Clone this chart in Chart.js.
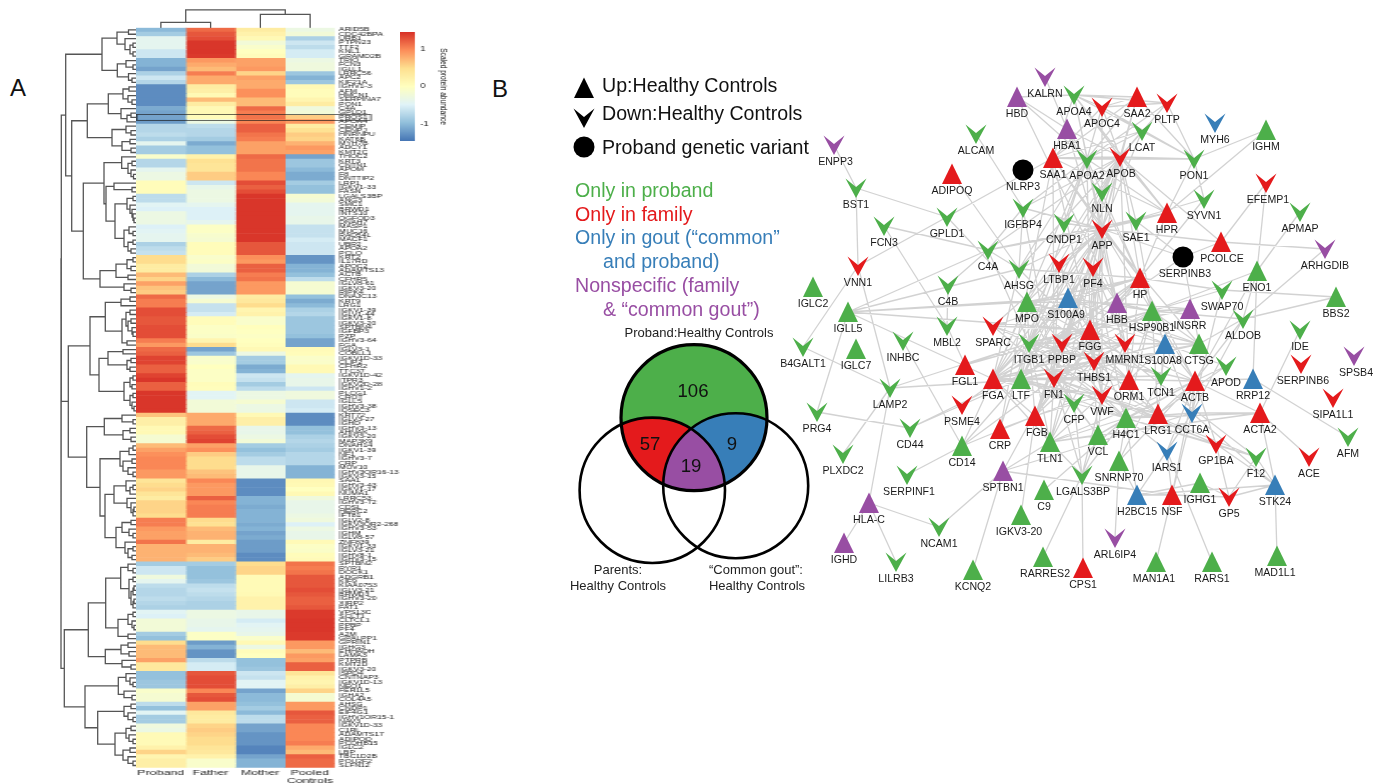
<!DOCTYPE html>
<html>
<head>
<meta charset="utf-8">
<title>Proband proteomics heatmap, Venn and network</title>
<script src="https://cdn.jsdelivr.net/npm/chart.js@4"></script>
<style>
  html, body { margin: 0; padding: 0; background: #fff; overflow: hidden; }
  body { width: 1385px; height: 784px; position: relative; font-family: "Liberation Sans", Arial, sans-serif; }
  .box { position: absolute; }
  .wide { transform-origin: 0 0; filter: blur(0.3px); }
  .letter { position: absolute; font-size: 24px; color: #111; line-height: 24px; }
</style>
</head>
<body>
<div class="letter" style="left:10px;top:76px">A</div>
<div class="letter" style="left:492px;top:77px">B</div>
<div class="box" style="left:55px;top:0"><canvas id="rowTree" width="81" height="784"></canvas></div>
<div class="box" style="left:136px;top:0"><canvas id="colTree" width="199" height="28"></canvas></div>
<div class="box wide" style="left:136px;top:0;transform:scaleX(1.7)"><canvas id="heat" width="160" height="784"></canvas></div>
<div class="box wide" style="left:400px;top:0;transform:scaleX(1.35)"><canvas id="colorBar" width="36" height="170"></canvas></div>
<div class="box" style="left:500px;top:60px"><canvas id="venn" width="330" height="540"></canvas></div>
<div class="box" style="left:780px;top:60px"><canvas id="network" width="605" height="560"></canvas></div>

<script>
// ---------- panel A data ----------
const geneNames = ["ARID5B","CDC42BPA","URB1","PTPN23","TTF2","KNL1","GRAMD2B","TRIO","FCN3","IGLL1",
"LRRC56","APC2","KIF21A","IGHV1-3","AFM","HMCN1","SERPINA7","PON1","C4A","GPLD1",
"PROS1","APOA4","CEMIP","CENPJ","HNRNPU","KAT6B","MYH7B","ADCY1","KMT2C","THOC2",
"KRT3","CNTN1","APOM","F8","DNTTIP2","LRP1","IGKV1-33","FASN","LGALS3BP","ANG3",
"SMC1","BRWD1","INTS10","OGFOD3","DNAH7","MASP1","MUC16","RAD54L","MACF1","UBR2",
"APOA2","PCLO","KRT2","IL17RD","APOC2","ADAMTS13","ACTB","CFHR5","IGLV8-61","IGKV3-20",
"RIPK4","DNAJC13","KRT9","LRG1","IGKV1-39","IGLV1-44","IGKV1-8","IGKV3-20","SPTBN4","IGFBP3",
"PZP","IGHV3-64","FGA","IGLV3-1","COBLL1","IGKV1D-33","CLIP2","CFHR2","TTC37","IGKV1D-42",
"ITPR3","IGKV2D-28","IGHV1-2","PLCG1","CROT","IGLL5","IGHV3-38","IQSEC3","KRT72","IGLV3-27",
"IGHD","IGHV3-13","AHNAK","IGKV3-20","MAP3K9","DNAH14","IGKV1-39","NF1","IGHV3-7","CRP",
"MOV10","IGHV3OR16-13","IGKV3-15","SAA1","IGHV3-43","IGKV1-17","NUMA1","LRRC53","IGHV3-72","CDSL",
"HERC2","IFT81","IGLV2-8","IGKV3OR2-268","IGHV3-53","IGHM","IGLV8-57","ZNF839","IGKV1-33","IGLV3-21",
"IGHV8-1","IGHV3-15","SPTBN2","RYR1","DOCK1","ADGRB1","KIF9","KIAA0753","IGLV3-21","BRWD3",
"IGHV3-20","XIRP2","FAT1","VPS13C","SCLT1","CLTCL1","PPBP","PF4","A2M","GPALPP1",
"GPRIN1","IGHG3","EHHADH","LAMA3","PTPRB","KMT2D","IGKV3-20","ISPD4","CNTNAP3","IGKV1D-13",
"NEO1","FER1L5","IGHA2","COL4A5","AHSG","CNDP1","EIF4G1","IGHV1OR15-1","NAV3","IGKV1D-33",
"C1RL","ADAMTS17","ADIPOQ","PCDHB15","IGLC2","LBP","TBC1D2B","POU2F2","SLFN12"];

const columnLabels = ["Proband", "Father", "Mother", ["Pooled", "Controls"]];

const probandValues = [-1,-.85,-.4,-.4,-.4,-.6,-.6,-1.05,-1.05,-1.15,
-.8,-.6,-.75,-1.3,-1.3,-1.3,-1.3,-1.3,-1.1,-1.15,
-1.15,-1.2,-.75,-.75,-.7,-.8,-.4,-.85,-.85,-.1,
-.75,-.75,-.4,-.3,-.3,.05,.05,.05,-.7,-.7,
-.45,-.5,-.3,-.3,-.3,-.5,-.45,-.4,-.4,-.8,
-.7,-.65,.5,.5,.3,.3,.7,.55,.85,.65,
.6,1.15,1.05,1.05,1.3,1.3,1.25,1.25,1.3,1.3,
1.3,1.05,.9,1.15,1.2,1.35,1.35,1.2,1.2,1.35,
1.42,1.2,1.2,1.42,1.42,1.42,1.42,1.42,.65,.25,
.25,.1,.1,-.15,-.15,.7,.85,.95,1,1,
1,.9,.9,.4,.5,.55,.4,.3,.55,.55,
.55,.5,1.05,1.05,.9,.85,.85,1.1,.75,.75,
.75,.75,-.85,-.6,-.6,-.25,-.4,-.7,-.75,-.75,
-.7,-.75,-.8,-.45,-.5,-.2,-.2,-.2,-.85,-.95,
.5,.7,.7,.7,.85,.35,.35,-.95,-.95,-.9,
-.9,-.1,-.15,-.15,-.7,-.95,-.45,-.85,-.85,-.25,
-.3,.08,.08,.08,.2,.55,.15,.25,.25];

const fatherValues = [1.15,1.25,1.3,1.42,1.42,1.42,1.4,.9,.8,.7,
1.05,.8,.8,.3,.25,.1,.7,.3,.1,.1,
.05,-.3,-.7,-.75,-.75,-.85,-1.1,-.95,-.95,.2,
.45,.4,.4,.6,.6,-.6,-.35,-.3,-.3,-.3,
-.4,-.5,-.5,-.5,-.4,-.05,-.05,-.12,-.15,.05,
.05,.05,-.1,-.05,-.2,-.2,-.8,-1,-1.15,-1.15,
-1.15,-.3,-.15,-.65,-.65,-.55,.05,.05,-.05,-.05,
-.07,.15,.5,-1.15,-.9,-.1,-.1,0,-.05,-.05,
-.05,.05,.03,-.45,-.45,-.2,-.2,-.2,.8,.8,
.8,1.15,1.2,1.3,1.35,.85,.95,.6,.5,.5,
.5,.65,.7,1,.9,.9,.9,1.2,1,1.05,
1.05,1.05,.5,.45,.7,.75,.75,.3,.75,.75,
.7,.6,-.85,-.95,-.95,-.95,-.9,-.7,-.65,-.7,
-.75,-.8,-.8,-.3,-.3,-.35,-.35,-.4,-.05,-.05,
-1.2,-1.05,-1.25,-1.25,-.7,-.55,-.55,1.25,1.3,1.3,
1.3,1,1.25,1.3,.85,.85,.35,.3,.3,.55,
.6,.55,.5,.5,.4,.35,.2,-.1,-.1];

const motherValues = [.3,.2,.1,-.2,-.1,0,.05,.85,.85,.9,
.55,.85,.8,.8,.95,.95,.7,.7,1.15,1.05,
1.1,1,1.2,1.2,1.1,1.05,.85,.85,.85,1.15,
1.1,1.1,1.1,1,1,1.3,1.2,1.3,1.42,1.42,
1.42,1.42,1.42,1.42,1.42,1.42,1.42,1.42,1.42,1.25,
1.25,1.25,.95,.9,1.2,1.2,1.05,1.1,.9,.9,
.9,.3,.35,.5,.15,.2,-.1,-.1,.02,-.02,
-.05,0,.03,.1,-.3,-.85,-.85,-1.1,-1.05,-.6,
-.65,-.85,-.7,-.3,-.3,-.15,-.3,-.3,.1,.25,
.25,-.35,-.35,-.3,-.2,-.85,-.95,-.85,-.7,-.7,
-.35,-.35,-.35,-1.3,-1.3,-1.3,-1.3,-1.05,-1.05,-1.1,
-1.05,-1.05,-1.05,-1.1,-1.05,-1.15,-1.1,-1.2,-1.2,-1.2,
-1.3,-1.3,.5,.55,.55,.08,.08,.08,.08,.1,
.2,.2,.2,-.35,-.35,-.55,-.45,-.4,-.35,-.1,
.1,-.3,.05,0,-.95,-.95,-.9,-.6,-.65,-.45,
-.45,-1.15,-1,-1,-.95,-.85,-1,-.7,-.7,-1.15,
-1.15,-1.25,-1.25,-1.25,-1.35,-1.35,-1.15,-1.05,-1.05];

const controlValues = [-.3,-.2,-.8,-.6,-.7,-.55,-.55,-.3,-.25,-.25,
-.9,-1.05,-.9,.1,.05,.05,.15,.3,-.25,-.2,
.6,.9,.3,.45,.6,.55,.75,.9,.85,-1.15,
-.9,-.9,-1,-1.1,-1.1,-.85,-.95,-.95,-.15,-.2,
-.4,-.4,-.4,-.35,-.35,-.65,-.65,-.65,-.55,-.6,
-.6,-.6,-1.25,-1.25,-1.05,-1.05,-.95,-.7,-.15,-.15,
-.15,-.95,-1.1,-1,-.8,-.75,-.9,-.9,-.9,-.9,
-.95,-1.15,-1.15,.07,.05,-.08,-.08,.1,.1,-.4,
-.35,-.35,-.6,-.25,-.25,-.6,-.6,-.55,-1.3,-1.3,
-1.3,-.95,-.95,-.8,-.75,-.8,-.85,-.75,-.75,-.75,
-1.05,-1.05,-1.05,.12,.1,0,.1,-.25,-.35,-.35,
-.35,-.3,-.25,-.5,-.3,-.35,-.35,.08,-.05,-.07,
.05,.07,1.1,1.05,1.1,1.25,1.25,1.25,1.3,1.25,
1.2,1.2,1.25,1.4,1.4,1.42,1.42,1.42,1.4,1.4,
.9,.9,.7,.9,.85,1.2,1.2,.4,.2,.15,
.25,.55,-.15,-.15,.9,.9,1.25,1.2,1.2,1,
1,1,1,1.05,.8,.7,1.2,1.15,1.15];

const scaleStops = [-1.45, -0.97, -0.48, 0, 0.48, 0.97, 1.45];
const scaleColors = ["#4575b4", "#91bfdb", "#e0f3f8", "#ffffbf", "#fee090", "#fc8d59", "#d73027"];
const scaleTicks = [-1, 0, 1];
const highlightedRow = "PROS1";

// dendrograms: [merge height, child, child], L is the next row in order
const L = 0;
const rowTreeData = [75,
  [74.7,
    [70.3,
      [34, [19, [7.5,L,L], [11,L,[6,[3,L,L],[3,L,L]]]], [18.7, [10,L,[3,L,L]], [7.5,L,[4,L,L]]]],
      [64.3,
        [48.7,
          [27.7, [13,[7,L,L],[8,L,[4,L,L]]], [15,L,[9,[5,L,L],L]]],
          [24, [10,L,[5,L,L]], [14,[6,L,L],[5,L,L]]]],
        [52.7,
          [32,
            [14.3,L,[8,[4,L,L],[5,L,[2.5,L,L]]]],
            [30, [22,L,[4,L,L]],
              [21, [9,[3,L,L],[6,L,[4,L,[3,L,[2,L,L]]]]], [12,[7,L,[3,L,L]],[8,[3,L,L],[5,L,L]]]]]],
          [36, [20,[9,[3,L,L],[5,L,L]],[8,L,L]], [12,L,[5,L,L]]]]]],
    [67.7,
      [46,
        [30.7, [15,[6,L,L],L], [14,[10,[6,L,L],[8,[5,L,L],[4,L,[3,L,L]]]],[9,L,L]]],
        [37, [28,[13,L,L],[9,[5,L,L],[6,L,L]]], [12,[6,[3,L,L],[4,L,L]],[6,[3,L,L],[4,L,[2,L,L]]]]]],
      [49.3,
        [31.7, [14,L,[3,L,L]], [13,[6,L,L],[5,L,L]]],
        [36,
          [16, [7,[3,L,L],L], [13,[4,L,L],[8,L,[3,L,L]]]],
          [31,
            [22, [10,L,[6,[3,L,L],L]], [9,L,[5,L,[3,[2,L,L],L]]]],
            [20, [14,[5,L,L],[7,L,[3,L,L]]], [11,L,[8,[3,L,L],[4,L,L]]]]]]]]],
  [71.7,
    [47.7,
      [30.3,
        [15.3, [8,L,[3,L,L]], [7,[3,L,L],[5,[3,[2,L,L],L],[3,[2,L,L],L]]]],
        [18, [8,[3,L,L],[4,L,[2,L,L]]], [8,L,L]]],
      [30.7, [15,[8,L,L],[7,L,L]], [14,L,[5,L,L]]]],
    [51,
      [17.7, [10,L,[6,L,[3,L,L]]], [12,L,[4,L,L]]],
      [38.3,
        [12,[5,L,L],[8,L,[3,L,L]]],
        [21, [10,[5,L,L],[7,L,[3,L,L]]], [13,[6,L,L],[8,L,[3,L,L]]]]]]]];
const colTreeData = [18.2, [5.7,L,L], [13.7,L,L]];

// ---------- panel B data ----------
const vennCircles = [{x:694,y:417.7,r:73},{x:652.3,y:490.3,r:72.7},{x:735.7,y:485.7,r:72.5}];
const vennCounts = ["106", "57", "9", "19"];
const vennCountX = [693, 650, 732, 691];
const vennCountY = [392, 445, 445, 467];
const legendMarks = [{x:584,y:88},{x:584,y:118},{x:584,y:147}];

const legendLines = [
  ["Up:Healthy Controls", 602, 87, "#111"],
  ["Down:Healthy Controls", 602, 115, "#111"],
  ["Proband genetic variant", 602, 149, "#111"],
  ["Only in proband", 575, 192, "#4daf4a"],
  ["Only in family", 575, 216, "#e41a1c"],
  ["Only in gout (“common”", 575, 239, "#377eb8"],
  ["and proband)", 603, 263, "#377eb8"],
  ["Nonspecific (family", 575, 287, "#984ea3"],
  ["& “common gout”)", 603, 311, "#984ea3"]
];
const vennTitles = [
  ["Proband:Healthy Controls", 699, 333],
  ["Parents:", 618, 570],
  ["Healthy Controls", 618, 586],
  ["“Common gout”:", 756, 570],
  ["Healthy Controls", 757, 586]
];

const greenUp = [["IGLC2",813,287],["IGLL5",848,312],["IGLC7",856,349],["MPO",1027,302],["HSP90B1",1152,311],["LTF",1021,379],["CTSG",1199,344],["H4C1",1126,418],["VCL",1098,435],["SNRNP70",1119,461],["TLN1",1050,442],["CD14",962,446],["C9",1044,490],["IGKV3-20",1021,515],["IGHG1",1200,483],["ENO1",1257,271],["BBS2",1336,297],["IGHM",1266,130],["KCNQ2",973,570],["RARRES2",1043,557],["MAN1A1",1156,562],["RARS1",1212,562],["MAD1L1",1277,556]];
const greenDown = [["BST1",856,188],["ALCAM",976,134],["IGFBP4",1023,208],["GPLD1",947,217],["CNDP1",1064,223],["FCN3",884,226],["C4A",988,250],["AHSG",1019,269],["C4B",948,285],["APOA4",1074,95],["APOA2",1087,159],["LCAT",1142,131],["PON1",1194,159],["NLN",1102,192],["SYVN1",1204,199],["APMAP",1300,212],["SAE1",1136,221],["SWAP70",1222,290],["ALDOB",1243,319],["IDE",1300,330],["APOD",1226,366],["TCN1",1161,376],["CFP",1074,403],["ITGB1",1029,343],["MBL2",947,326],["INHBC",903,341],["B4GALT1",803,347],["LAMP2",890,388],["PRG4",817,412],["CD44",910,428],["PLXDC2",843,454],["SERPINF1",907,475],["LGALS3BP",1082,475],["NCAM1",939,527],["LILRB3",896,562],["AFM",1348,437],["F12",1256,457]];
const redUp = [["SAA1",1053,158],["ADIPOQ",952,174],["SAA2",1137,97],["HPR",1167,213],["PCOLCE",1221,242],["HP",1140,278],["FGG",1090,330],["ORM1",1129,380],["ACTB",1195,381],["LRG1",1158,414],["ACTA2",1260,413],["FGL1",965,365],["FGA",993,379],["FGB",1035,416],["CRP",1000,429],["NSF",1172,495],["CPS1",1083,568]];
const redDown = [["VNN1",858,266],["LTBP1",1059,263],["PF4",1093,267],["APOC4",1102,107],["PLTP",1167,103],["APOB",1120,157],["EFEMP1",1266,183],["APP",1102,229],["MMRN1",1125,343],["SERPINB6",1301,364],["THBS1",1094,361],["VWF",1102,395],["SIPA1L1",1333,398],["GP1BA",1216,444],["ACE",1309,457],["GP5",1229,497],["SPARC",993,326],["PPBP",1062,343],["FN1",1054,378],["PSME4",962,405]];
const blueUp = [["S100A9",1068,298],["S100A8",1165,344],["RRP12",1253,379],["STK24",1275,485],["H2BC15",1137,495]];
const blueDown = [["MYH6",1215,123],["CCT6A",1192,413],["IARS1",1167,451]];
const purpleUp = [["HBD",1017,97],["HBA1",1067,129],["HBB",1117,303],["INSRR",1190,309],["SPTBN1",1003,471],["HLA-C",869,503],["IGHD",844,543]];
const purpleDown = [["ENPP3",834,145],["KALRN",1045,77],["ARHGDIB",1325,249],["SPSB4",1354,356],["ARL6IP4",1115,538]];
const variantNodes = [["NLRP3",1023,170],["SERPINB3",1183,257]];

// first name of each line is joined to every other name of the line
const edgeLines = [
"ENPP3 BST1","BST1 VNN1 GPLD1","GPLD1 VNN1 SAA1 MPO","FCN3 C4A MBL2","ADIPOQ AHSG","ALCAM IGFBP4",
"C4A IGLL5 HPR APP AHSG IGFBP4 ITGB1 APOB","B4GALT1 VNN1 LAMP2","PRG4 IGLL5 CD44","LAMP2 VNN1 PLXDC2 ITGB1 FN1",
"IGLL5 AHSG MPO FGA S100A9 FGG","INHBC CD14","MBL2 C4B FGL1","C4B C4A","SPARC ITGB1 FN1 THBS1 APP HP FGG",
"FGL1 FGG ITGB1","PSME4 LTF HP","CD44 LTF HSP90B1","CD14 SERPINF1 FGA LTF FGB FN1","CRP FGB APOA2 SAA1",
"SPTBN1 TLN1 FN1 KCNQ2 NCAM1 NSF CCT6A","HLA-C NCAM1 IGHD LILRB3 LAMP2","C9 H4C1","IGKV3-20 FGB",
"LGALS3BP RARRES2 CPS1 FN1 VCL TLN1 H4C1 CFP VWF","SNRNP70 ARL6IP4 H4C1 H2BC15 TCN1",
"H2BC15 H4C1 IARS1 NSF IGHG1 CCT6A STK24","NSF IARS1 MAN1A1 GP5 CCT6A ACTB","RARS1 IARS1","MAD1L1 STK24",
"STK24 GP5 F12 GP1BA ACTA2 CCT6A","GP5 GP1BA F12 IGHG1","F12 GP1BA VWF","ACE ACTA2","AFM RRP12","IDE ACTA2",
"ENO1 EFEMP1 APMAP ALDOB HSP90B1 ACTB RRP12","ARHGDIB PCOLCE ALDOB","BBS2 ALDOB SWAP70","PCOLCE EFEMP1 APP APOB",
"IGHM PON1 HPR","PON1 SYVN1 PLTP SAA2 APOA4 APOA2 APOB LCAT APOC4 HPR","SYVN1 HP","SWAP70 HP CCT6A","ALDOB CTSG",
"SERPINB3 PCOLCE HBB CTSG APP SAE1","KALRN HBA1","HBD HBA1 APOA2",
"APP APOA2 APOB APOA4 APOC4 SAA1 SAA2 LCAT NLN SAE1 HP HPR FGG PF4 PPBP THBS1 FN1 ITGB1 VWF LTBP1 MMRN1 HSP90B1 HBB S100A9 AHSG MPO IGFBP4 CNDP1 LTF FGA SYVN1 CTSG TLN1",
"APOB APOA2 APOA4 APOC4 SAA1 SAA2 LCAT PLTP HP HPR HBA1 FGA FGB FGG AHSG IGFBP4 NLN SAE1 ITGB1 MPO LTF ORM1",
"APOA2 APOA4 APOC4 SAA1 SAA2 LCAT PLTP HP HPR AHSG FGA FGG ORM1 HBA1 IGFBP4 CNDP1",
"APOA4 APOC4 SAA1 SAA2 LCAT PLTP HBD HPR","APOC4 SAA1 SAA2 LCAT PLTP","SAA1 SAA2 HP FGG HPR FN1 LCAT",
"HP HPR HBB HBA1 ORM1 FGA FGB FGG AHSG MPO LTF S100A8 S100A9 ACTB HSP90B1",
"FGG FGA FGB FN1 ITGB1 PPBP PF4 VWF THBS1 MMRN1 TLN1 LTF H4C1 VCL HSP90B1 ACTB S100A9",
"FGA FGB FN1 ITGB1 PPBP PF4 THBS1 VWF MMRN1 TLN1 ORM1 LTF MPO","FGB FN1 ITGB1 PPBP PF4 THBS1 VWF TLN1 ORM1",
"FN1 ITGB1 PPBP PF4 THBS1 VWF MMRN1 TLN1 VCL LTF H4C1 ACTB HSP90B1 CFP LRG1 TCN1 CTSG",
"ITGB1 PPBP PF4 THBS1 VWF TLN1 VCL LTF HSP90B1 ACTB H4C1 MPO S100A8 S100A9 LRG1 INSRR",
"PPBP PF4 THBS1 VWF MMRN1 MPO LTF CTSG TCN1","PF4 THBS1 VWF MMRN1 S100A9 HBB H4C1","THBS1 VWF MMRN1 TLN1 ORM1 LRG1",
"VWF TLN1 MMRN1 VCL H4C1","TLN1 VCL H4C1 ACTB","MPO LTF CTSG S100A8 S100A9 HBB TCN1 ORM1 CFP",
"LTF S100A8 S100A9 CTSG ORM1 TCN1 CFP LRG1 H4C1","S100A9 S100A8 CTSG HSP90B1","S100A8 CTSG ACTB LRG1 ORM1 TCN1 APOD",
"HBB HBA1 HBD HSP90B1 INSRR","HSP90B1 ACTB H4C1 CTSG INSRR ALDOB CCT6A SWAP70 LRG1 ORM1 SAE1",
"ACTB H4C1 VCL CCT6A ACTA2 LRG1 APOD RRP12 ALDOB SNRNP70 IARS1","H4C1 VCL SNRNP70 LRG1 CCT6A IARS1",
"CCT6A ALDOB IARS1 H2BC15 ACTA2","LRG1 ORM1 APOD","LTBP1 FN1 FGG THBS1 ITGB1","IGFBP4 AHSG FN1","AHSG FGA ORM1",
"ACTA2 H4C1 TLN1","GP1BA VWF FN1 H4C1 ACTB","F12 FGA FGG"
];

// node label tweaks, horizontal only
const labelShift = {ENPP3:1.5,"S100A9":-2,"S100A8":-2,APOB:1,SERPINB3:2,SPSB4:2,SERPINB6:2,FGB:2,LGALS3BP:1,MAN1A1:-2,MAD1L1:-2,RARRES2:2,"IGKV3-20":-2,SERPINF1:2,EFEMP1:2,PCOLCE:1};

// ---------- helpers ----------
Chart.defaults.animation = false;
Chart.defaults.responsive = false;
Chart.defaults.events = [];
Chart.defaults.layout.autoPadding = false;
Chart.defaults.font.family = '"Liberation Sans", Arial, sans-serif';
Chart.defaults.plugins.legend.display = false;
Chart.defaults.plugins.tooltip.enabled = false;

function hexToRgb(hex) {
  return [1, 3, 5].map((i) => parseInt(hex.substr(i, 2), 16));
}

function heatColor(v) {
  let k = 0;
  while (k < scaleStops.length - 2 && v > scaleStops[k + 1]) k++;
  const t = Math.max(0, Math.min(1, (v - scaleStops[k]) / (scaleStops[k + 1] - scaleStops[k])));
  const a = hexToRgb(scaleColors[k]);
  const b = hexToRgb(scaleColors[k + 1]);
  return "rgb(" + a.map((c, i) => Math.round(c + (b[i] - c) * t)).join(",") + ")";
}

// turns a merge tree into broken line points
function treeSegments(tree, horizontal) {
  const points = [];
  let leaf = 0;
  function walk(node) {
    if (node === L) return { pos: leaf++ + 0.5, h: 0 };
    const a = walk(node[1]);
    const b = walk(node[2]);
    [[a.h, a.pos], [node[0], a.pos], [node[0], b.pos], [b.h, b.pos], [NaN, NaN]].forEach((p) => {
      points.push(horizontal ? { x: p[0], y: p[1] } : { x: p[1], y: p[0] });
    });
    return { pos: (a.pos + b.pos) / 2, h: node[0] };
  }
  walk(tree);
  return points;
}

function hiddenLinear(min, max, reverse) {
  return { type: "linear", min, max, reverse: !!reverse, display: false };
}

function glyph(shape, color) {
  const c = document.createElement("canvas");
  c.width = 24;
  c.height = 24;
  const g = c.getContext("2d");
  g.fillStyle = color;
  g.beginPath();
  if (shape === "up") {
    g.moveTo(12, 1.5); g.lineTo(22, 22); g.lineTo(2, 22);
  } else if (shape === "down") {
    g.moveTo(1.5, 2.5); g.lineTo(12, 11); g.lineTo(22.5, 2.5); g.lineTo(12, 22);
  } else {
    g.arc(12, 12, 10.5, 0, Math.PI * 2);
  }
  g.closePath();
  g.fill();
  return c;
}

// ---------- row and column dendrograms ----------
function treeChart(id, points, xScale, yScale, padding) {
  new Chart(document.getElementById(id), {
    type: "scatter",
    data: { datasets: [{ data: points, showLine: true, spanGaps: false, pointRadius: 0, borderColor: "#555", borderWidth: 1.3 }] },
    options: { layout: { padding }, scales: { x: xScale, y: yScale } }
  });
}
treeChart("rowTree", treeSegments(rowTreeData, true), hiddenLinear(0, 81, true), hiddenLinear(0, geneNames.length, true), { top: 27.7, bottom: 16.3 });
treeChart("colTree", treeSegments(colTreeData, false), hiddenLinear(0, 4), hiddenLinear(0, 28), 0);

// ---------- heatmap ----------
const heatColumns = [probandValues, fatherValues, motherValues, controlValues];

const rowBoxPlugin = {
  id: "rowBox",
  afterDatasetsDraw(chart) {
    const { ctx, chartArea, scales } = chart;
    const y = scales.y.getPixelForValue(geneNames.indexOf(highlightedRow));
    ctx.save();
    ctx.strokeStyle = "rgba(25,25,25,0.8)";
    ctx.lineWidth = 0.8;
    ctx.strokeRect(chartArea.left + 0.5, y - 3, chartArea.width + 20.7, 6);
    ctx.restore();
  }
};

new Chart(document.getElementById("heat"), {
  type: "bar",
  data: {
    labels: geneNames,
    datasets: heatColumns.map((values) => ({
      data: values.map(() => 1),
      backgroundColor: values.map(heatColor),
      barPercentage: 1,
      categoryPercentage: 1,
      borderWidth: 0
    }))
  },
  options: {
    indexAxis: "y",
    layout: { padding: { top: 27.7 } },
    scales: {
      x: {
        type: "linear", stacked: true, min: 0, max: 4,
        grid: { display: false, drawTicks: false }, border: { display: false },
        afterBuildTicks(s) { s.ticks = [0.5, 1.5, 2.5, 3.5].map((value) => ({ value })); },
        afterFit(s) { s.height = 16.3; s.paddingLeft = 0; s.paddingRight = 0; },
        ticks: {
          autoSkip: false, maxRotation: 0, padding: 1, color: "#222",
          font: { size: 7.3, lineHeight: 1.09 },
          callback: (v) => columnLabels[v - 0.5]
        }
      },
      y: {
        type: "category", position: "right", stacked: true,
        grid: { display: false, drawTicks: false }, border: { display: false },
        afterFit(s) { s.width = 43.1; s.paddingTop = 0; s.paddingBottom = 0; },
        ticks: { autoSkip: false, padding: 2.4, color: "#151515", font: { size: 5 } }
      }
    }
  },
  plugins: [rowBoxPlugin]
});

// ---------- colour bar ----------
new Chart(document.getElementById("colorBar"), {
  type: "bar",
  data: {
    labels: ["scale"],
    datasets: [{
      data: [[scaleStops[0], scaleStops[scaleStops.length - 1]]],
      barPercentage: 1,
      categoryPercentage: 1,
      borderWidth: 0,
      backgroundColor(c) {
        const area = c.chart.chartArea;
        if (!area) return "#fff";
        const grad = c.chart.ctx.createLinearGradient(0, area.bottom, 0, area.top);
        scaleStops.forEach((s, i) => grad.addColorStop(i / (scaleStops.length - 1), scaleColors[i]));
        return grad;
      }
    }]
  },
  options: {
    layout: { padding: { top: 32, bottom: 29 } },
    scales: {
      x: { display: false },
      y: {
        position: "right", min: scaleStops[0], max: scaleStops[scaleStops.length - 1],
        grid: { display: false, drawTicks: false }, border: { display: false },
        afterBuildTicks(s) { s.ticks = scaleTicks.map((value) => ({ value })); },
        afterFit(s) { s.width = 25; s.paddingTop = 0; s.paddingBottom = 0; },
        ticks: { padding: 4, color: "#111", font: { size: 7 }, callback: (v) => String(v) },
        title: {
          display: true, text: "Scaled protein abundance", color: "#111", padding: 0,
          font: { size: 6.6 }
        }
      }
    }
  }
});

// ---------- legend and Venn ----------
const vennPlugin = {
  id: "vennFill",
  beforeDatasetsDraw(chart) {
    const { ctx, scales } = chart;
    const circles = vennCircles.map((c) => ({ x: scales.x.getPixelForValue(c.x), y: scales.y.getPixelForValue(c.y), r: c.r }));
    const path = (c) => { ctx.beginPath(); ctx.arc(c.x, c.y, c.r, 0, Math.PI * 2); };
    const fillRegion = (clipTo, color) => {
      ctx.save();
      clipTo.forEach((i) => { path(circles[i]); ctx.clip(); });
      ctx.fillStyle = color;
      ctx.fillRect(0, 0, chart.width, chart.height);
      ctx.restore();
    };
    fillRegion([0], "#4daf4a");
    fillRegion([0, 1], "#e41a1c");
    fillRegion([0, 2], "#377eb8");
    fillRegion([0, 1, 2], "#984ea3");
  },
  afterDatasetsDraw(chart) {
    const { ctx, scales } = chart;
    const px = (x) => scales.x.getPixelForValue(x);
    const py = (y) => scales.y.getPixelForValue(y);
    ctx.save();
    ctx.textBaseline = "middle";
    ctx.textAlign = "left";
    ctx.font = '19.6px "Liberation Sans", Arial, sans-serif';
    legendLines.forEach((l) => { ctx.fillStyle = l[3]; ctx.fillText(l[0], px(l[1]), py(l[2])); });
    ctx.textAlign = "center";
    ctx.fillStyle = "#222";
    ctx.font = '13px "Liberation Sans", Arial, sans-serif';
    vennTitles.forEach((l) => ctx.fillText(l[0], px(l[1]), py(l[2])));
    ctx.fillStyle = "#111";
    ctx.font = '18.6px "Liberation Sans", Arial, sans-serif';
    vennCounts.forEach((t, i) => ctx.fillText(t, px(vennCountX[i]), py(vennCountY[i])));
    ctx.restore();
  }
};

new Chart(document.getElementById("venn"), {
  type: "bubble",
  data: {
    datasets: [
      { data: vennCircles, backgroundColor: "rgba(0,0,0,0)", borderColor: "#000", borderWidth: [3.2, 2.6, 2.6], order: 1 },
      {
        type: "scatter", data: legendMarks, pointRadius: 12, order: 2,
        pointStyle: [glyph("up", "#000"), glyph("down", "#000"), glyph("circle", "#000")]
      }
    ]
  },
  options: { scales: { x: hiddenLinear(500, 830), y: hiddenLinear(60, 600, true) } },
  plugins: [vennPlugin]
});

// ---------- network ----------
const nodeGroups = [
  [greenUp, "up", "#4daf4a"], [greenDown, "down", "#4daf4a"],
  [redUp, "up", "#e41a1c"], [redDown, "down", "#e41a1c"],
  [blueUp, "up", "#377eb8"], [blueDown, "down", "#377eb8"],
  [purpleUp, "up", "#984ea3"], [purpleDown, "down", "#984ea3"],
  [variantNodes, "circle", "#000"]
];

const nodeIndex = {};
nodeGroups.forEach((g) => g[0].forEach((n) => { nodeIndex[n[0]] = n; }));

const edgePoints = [];
edgeLines.forEach((line) => {
  const names = line.split(" ");
  names.slice(1).forEach((name) => {
    const a = nodeIndex[names[0]];
    const b = nodeIndex[name];
    edgePoints.push({ x: a[1], y: a[2] }, { x: b[1], y: b[2] }, { x: NaN, y: NaN });
  });
});

const nodeLabelPlugin = {
  id: "nodeLabels",
  afterDatasetsDraw(chart) {
    const { ctx, scales } = chart;
    ctx.save();
    ctx.font = '10.6px "Liberation Sans", Arial, sans-serif';
    ctx.fillStyle = "#1a1a1a";
    ctx.textAlign = "center";
    ctx.textBaseline = "middle";
    Object.values(nodeIndex).forEach((n) => {
      ctx.fillText(n[0], scales.x.getPixelForValue(n[1]) + (labelShift[n[0]] || 0), scales.y.getPixelForValue(n[2]) + 16.7);
    });
    ctx.restore();
  }
};

new Chart(document.getElementById("network"), {
  type: "scatter",
  data: {
    datasets: [
      { data: edgePoints, showLine: true, spanGaps: false, pointRadius: 0, borderColor: "rgba(165,165,165,0.5)", borderWidth: 1.3, order: 5 }
    ].concat(nodeGroups.map((g) => ({
      data: g[0].map((n) => ({ x: n[1], y: n[2] })),
      pointStyle: glyph(g[1], g[2]),
      pointRadius: 12,
      order: 1
    })))
  },
  options: { scales: { x: hiddenLinear(780, 1385), y: hiddenLinear(60, 620, true) } },
  plugins: [nodeLabelPlugin]
});
</script>
</body>
</html>
